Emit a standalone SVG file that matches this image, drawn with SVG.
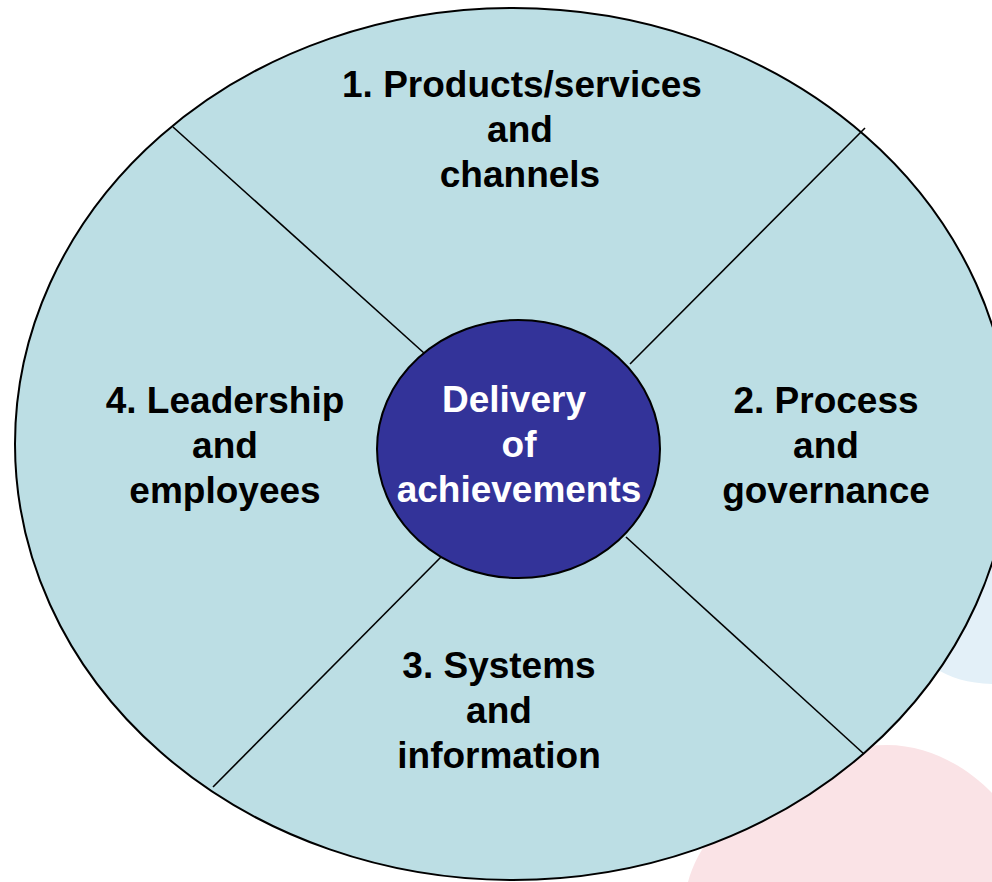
<svg xmlns="http://www.w3.org/2000/svg" width="992" height="882" viewBox="0 0 992 882">
  <style>
    .ring { fill: #bcdee4; stroke: #000; stroke-width: 2; }
    .hub { fill: #333399; stroke: #000; stroke-width: 2; }
    .divider { stroke: #000; stroke-width: 1.6; fill: none; }
    .label { font-family: "Liberation Sans", Arial, sans-serif; font-weight: bold; font-size: 37px; text-anchor: middle; fill: #000; }
    .hub-label { fill: #fff; }
  </style>

  <!-- faint backdrop shapes -->
  <g id="backdrop">
    <path d="M 900 600 L 992 520 L 992 684 C 968 683 950 678 935 668 Z" fill="#e3f0f8"/>
    <path d="M 688 882 C 705 815 800 745 887 745 C 930 745 968 768 992 793 L 992 882 Z" fill="#fae3e6"/>
  </g>

  <!-- outer ring -->
  <g id="ring">
    <ellipse class="ring" cx="513" cy="444" rx="498" ry="436"/>
  </g>

  <!-- dividers between the four areas -->
  <g id="connectors">
    <line class="divider" x1="173" y1="127" x2="424" y2="353"/>
    <line class="divider" x1="865" y1="128" x2="630" y2="364"/>
    <line class="divider" x1="626" y1="537" x2="864" y2="754"/>
    <line class="divider" x1="441" y1="557" x2="213" y2="787"/>
  </g>

  <g id="area-1">
    <text class="label" x="522" y="97">1. Products/services</text>
    <text class="label" x="520" y="142">and</text>
    <text class="label" x="520" y="187">channels</text>
  </g>

  <g id="area-2">
    <text class="label" x="826" y="413">2. Process</text>
    <text class="label" x="826" y="458">and</text>
    <text class="label" x="826" y="503">governance</text>
  </g>

  <g id="area-3">
    <text class="label" x="499" y="678">3. Systems</text>
    <text class="label" x="499" y="723">and</text>
    <text class="label" x="499" y="768">information</text>
  </g>

  <g id="area-4">
    <text class="label" x="225" y="413">4. Leadership</text>
    <text class="label" x="225" y="458">and</text>
    <text class="label" x="225" y="503">employees</text>
  </g>

  <g id="hub">
    <ellipse class="hub" cx="518.5" cy="449" rx="141.5" ry="129"/>
    <text class="label hub-label" x="514" y="412">Delivery</text>
    <text class="label hub-label" x="519" y="457">of</text>
    <text class="label hub-label" x="519" y="502">achievements</text>
  </g>
</svg>
